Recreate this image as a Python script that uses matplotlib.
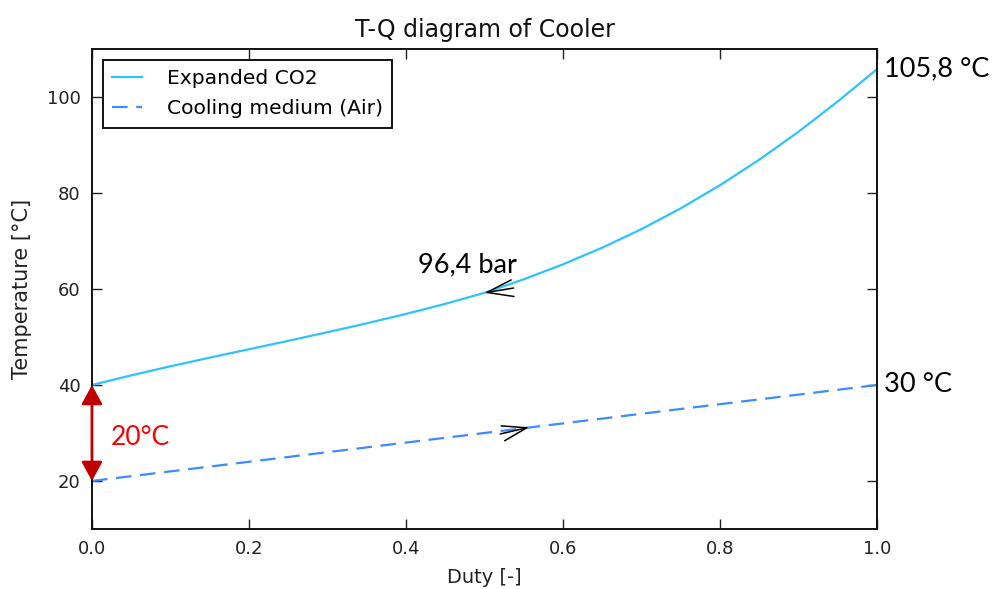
import matplotlib
matplotlib.use("Agg")
import matplotlib.pyplot as plt

# Duty fraction and temperatures along the cooler
duty = [0.00, 0.05, 0.10, 0.15, 0.20, 0.25, 0.30, 0.35, 0.40, 0.45, 0.50,
        0.55, 0.60, 0.65, 0.70, 0.75, 0.80, 0.85, 0.90, 0.95, 1.00]
t_co2 = [40.0, 42.0, 43.9, 45.7, 47.45, 49.2, 51.0, 52.85, 54.8, 56.9, 59.2,
         62.02, 65.14, 68.61, 72.48, 76.8, 81.62, 86.94, 92.76, 99.08, 105.8]
duty_air = [0.0, 1.0]
t_air = [20.0, 40.0]

xticks = [0.0, 0.2, 0.4, 0.6, 0.8, 1.0]
yticks = [20, 40, 60, 80, 100]

co2_color = "#2cc4ff"
air_color = "#3d8bff"
note_font = ["Lato", "DejaVu Sans"]

fig = plt.figure(figsize=(9.93, 5.89), dpi=100)
ax = fig.add_axes([0.0926, 0.1019, 0.7906, 0.8149])

ax.plot(duty, t_co2, color=co2_color, lw=1.6, label="Expanded CO2")
ax.plot(duty_air, t_air, color=air_color, lw=1.6,
        linestyle=(0, (7.0, 3.9)), label="Cooling medium (Air)")

ax.set_xlim(0, 1)
ax.set_ylim(10, 110)
ax.set_xticks(xticks)
ax.set_yticks(yticks)
ax.set_xticklabels([f"{v:.1f}" for v in xticks])
ax.tick_params(direction="in", top=True, right=True, length=7, width=1,
               labelsize=13, colors="#222222", pad=8)
for s in ax.spines.values():
    s.set_linewidth(1.4)
    s.set_color("#111111")

ax.set_title("T-Q diagram of Cooler", fontsize=17, color="#111111", pad=9)
ax.set_xlabel("Duty [-]", fontsize=14, color="#222222", labelpad=7)
ax.set_ylabel("Temperature [°C]", fontsize=15, color="#222222", labelpad=11)

leg = ax.legend(loc="upper left", fontsize=14.6, handlelength=1.45,
                fancybox=False, framealpha=1, edgecolor="#111111",
                borderpad=0.45, labelspacing=0.55, handletextpad=1.25,
                bbox_to_anchor=(0.0, 1.0), borderaxespad=0.55)
leg.get_frame().set_linewidth(1.4)

# Temperature difference at the cold end
ax.annotate("", xy=(0, t_co2[0]), xytext=(0, t_air[0]),
            arrowprops=dict(arrowstyle="<|-|>,head_length=0.55,head_width=0.3",
                            color="#c00000", lw=2, shrinkA=0, shrinkB=0,
                            mutation_scale=21),
            annotation_clip=False)
ax.text(0.024, 29.0, "20°C", color="red", fontsize=19, family=note_font,
        va="center", ha="left")

# Flow direction markers and labels
ax.annotate("", xy=(0.5, t_co2[10]), xytext=(0.537, 60.2),
            arrowprops=dict(arrowstyle="->,head_length=1.7,head_width=0.55",
                            color="black", lw=1.1, shrinkA=0, shrinkB=0,
                            mutation_scale=11))
ax.text(0.415, 65.0, "96,4 bar", fontsize=19.5, family=note_font,
        va="center", ha="left")
ax.annotate("", xy=(0.557, 31.2), xytext=(0.52, 29.8),
            arrowprops=dict(arrowstyle="->,head_length=1.6,head_width=0.5",
                            color="black", lw=1.1, shrinkA=0, shrinkB=0,
                            mutation_scale=11))

ax.annotate("105,8 °C", xy=(1.0, t_co2[-1]), xytext=(5, 0),
            textcoords="offset points", fontsize=19.5, family=note_font,
            va="center", ha="left", annotation_clip=False)
ax.annotate("30 °C", xy=(1.0, t_air[-1]), xytext=(5, 0),
            textcoords="offset points", fontsize=19.5, family=note_font,
            va="center", ha="left", annotation_clip=False)

fig.savefig("out.png", dpi=100, facecolor="white")
